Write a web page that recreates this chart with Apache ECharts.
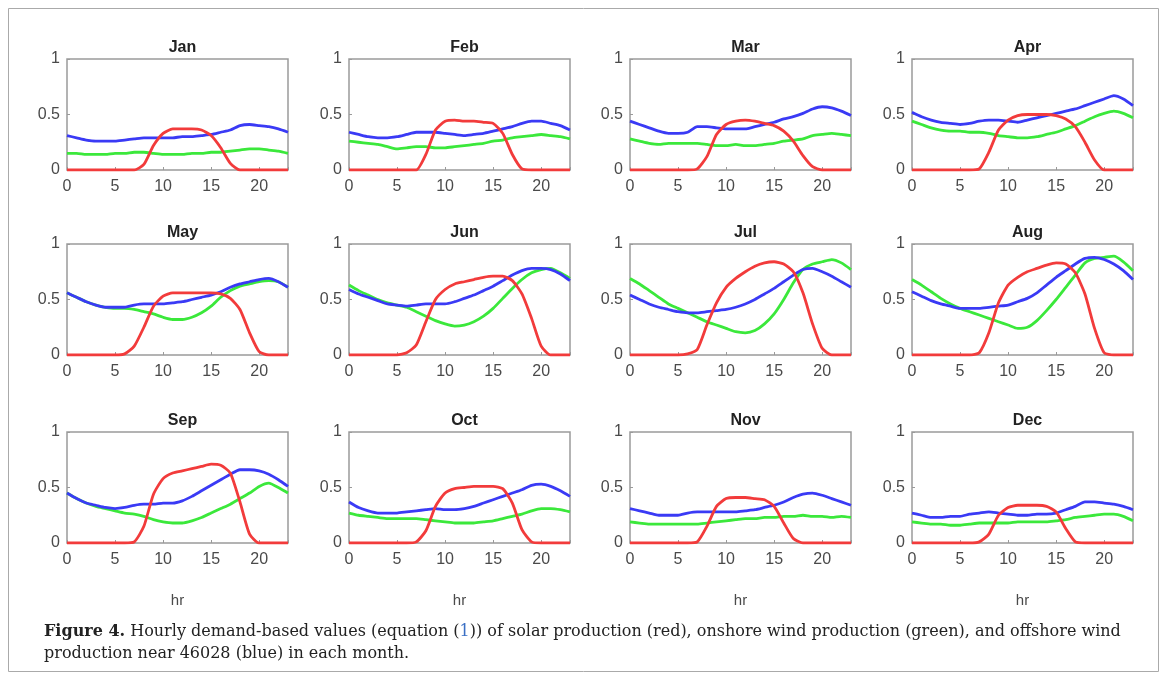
<!DOCTYPE html>
<html>
<head>
<meta charset="utf-8">
<script src="https://cdn.jsdelivr.net/npm/echarts@6/dist/echarts.min.js"></script>
<style>html,body{margin:0;padding:0;background:#fff;}#c{width:1167px;height:690px;}</style>
</head>
<body>
<div id="c"></div>
<script>
const months = ['Jan','Feb','Mar','Apr','May','Jun','Jul','Aug','Sep','Oct','Nov','Dec'];
const hours = [0,1,2,3,4,5,6,7,8,9,10,11,12,13,14,15,16,17,18,19,20,21,22,23];
const xTicks = [0,5,10,15,20];
const yTicks = [0,0.5,1];

// offshore wind near 46028 (blue)
const offshore = [
 [0.31,0.29,0.27,0.26,0.26,0.26,0.27,0.28,0.29,0.29,0.29,0.29,0.30,0.30,0.31,0.32,0.34,0.36,0.40,0.41,0.40,0.39,0.37,0.34],
 [0.34,0.32,0.30,0.29,0.29,0.30,0.32,0.34,0.34,0.34,0.33,0.32,0.31,0.32,0.33,0.35,0.37,0.39,0.42,0.44,0.44,0.42,0.40,0.36],
 [0.44,0.41,0.38,0.35,0.33,0.33,0.34,0.39,0.39,0.38,0.37,0.37,0.37,0.39,0.41,0.43,0.46,0.48,0.51,0.55,0.57,0.56,0.53,0.49],
 [0.52,0.48,0.45,0.43,0.42,0.41,0.42,0.44,0.45,0.45,0.44,0.43,0.45,0.47,0.49,0.51,0.53,0.55,0.58,0.61,0.64,0.67,0.64,0.58],
 [0.56,0.52,0.48,0.45,0.43,0.43,0.43,0.45,0.46,0.46,0.46,0.47,0.48,0.50,0.52,0.54,0.57,0.61,0.64,0.66,0.68,0.69,0.66,0.61],
 [0.59,0.55,0.52,0.49,0.46,0.45,0.44,0.45,0.46,0.46,0.46,0.48,0.51,0.54,0.58,0.62,0.67,0.72,0.76,0.78,0.78,0.77,0.73,0.67],
 [0.54,0.50,0.46,0.43,0.41,0.39,0.38,0.38,0.39,0.40,0.41,0.43,0.46,0.50,0.55,0.60,0.66,0.72,0.77,0.78,0.75,0.71,0.66,0.61],
 [0.57,0.53,0.49,0.46,0.44,0.42,0.42,0.42,0.43,0.44,0.45,0.48,0.51,0.56,0.63,0.70,0.76,0.82,0.87,0.88,0.86,0.82,0.76,0.68],
 [0.45,0.40,0.36,0.34,0.32,0.31,0.32,0.34,0.35,0.35,0.36,0.36,0.38,0.42,0.47,0.52,0.57,0.62,0.66,0.66,0.65,0.62,0.57,0.51],
 [0.37,0.32,0.29,0.27,0.27,0.27,0.28,0.29,0.30,0.31,0.30,0.30,0.31,0.33,0.36,0.39,0.42,0.45,0.48,0.52,0.53,0.51,0.47,0.42],
 [0.31,0.29,0.27,0.25,0.25,0.25,0.27,0.28,0.28,0.28,0.28,0.28,0.29,0.30,0.32,0.34,0.37,0.41,0.44,0.45,0.43,0.40,0.37,0.34],
 [0.27,0.25,0.23,0.23,0.24,0.24,0.26,0.27,0.28,0.27,0.26,0.25,0.25,0.26,0.26,0.27,0.30,0.33,0.37,0.37,0.36,0.35,0.33,0.30]
];
// onshore wind (green)
const onshore = [
 [0.15,0.15,0.14,0.14,0.14,0.15,0.15,0.16,0.16,0.15,0.14,0.14,0.14,0.15,0.15,0.16,0.16,0.17,0.18,0.19,0.19,0.18,0.17,0.15],
 [0.26,0.25,0.24,0.23,0.21,0.19,0.20,0.21,0.21,0.20,0.20,0.21,0.22,0.23,0.24,0.26,0.27,0.29,0.30,0.31,0.32,0.31,0.30,0.28],
 [0.28,0.26,0.24,0.23,0.24,0.24,0.24,0.24,0.23,0.22,0.22,0.23,0.22,0.22,0.23,0.24,0.26,0.27,0.28,0.31,0.32,0.33,0.32,0.31],
 [0.44,0.41,0.38,0.36,0.35,0.35,0.34,0.34,0.33,0.31,0.30,0.29,0.29,0.30,0.32,0.34,0.37,0.40,0.44,0.48,0.51,0.53,0.51,0.47],
 [0.56,0.52,0.48,0.45,0.43,0.42,0.42,0.41,0.39,0.37,0.34,0.32,0.32,0.34,0.38,0.44,0.52,0.58,0.62,0.64,0.66,0.67,0.66,0.61],
 [0.63,0.58,0.54,0.50,0.47,0.45,0.43,0.39,0.35,0.31,0.28,0.26,0.27,0.30,0.35,0.42,0.51,0.60,0.68,0.74,0.77,0.78,0.74,0.69],
 [0.69,0.64,0.58,0.52,0.46,0.42,0.38,0.34,0.30,0.27,0.24,0.21,0.20,0.22,0.28,0.37,0.50,0.65,0.77,0.82,0.84,0.86,0.83,0.77],
 [0.68,0.63,0.57,0.51,0.46,0.42,0.39,0.36,0.33,0.30,0.27,0.24,0.25,0.31,0.40,0.50,0.61,0.72,0.83,0.87,0.88,0.89,0.84,0.76],
 [0.45,0.40,0.36,0.33,0.31,0.29,0.27,0.26,0.24,0.21,0.19,0.18,0.18,0.20,0.23,0.27,0.31,0.35,0.40,0.45,0.51,0.54,0.50,0.45],
 [0.27,0.25,0.24,0.23,0.22,0.22,0.22,0.22,0.21,0.20,0.19,0.18,0.18,0.18,0.19,0.20,0.22,0.24,0.26,0.29,0.31,0.31,0.30,0.28],
 [0.19,0.18,0.17,0.17,0.17,0.17,0.17,0.17,0.18,0.19,0.20,0.21,0.22,0.22,0.23,0.23,0.24,0.24,0.25,0.24,0.24,0.23,0.24,0.23],
 [0.19,0.18,0.17,0.17,0.16,0.16,0.17,0.18,0.18,0.18,0.18,0.19,0.19,0.19,0.19,0.20,0.21,0.23,0.24,0.25,0.26,0.26,0.24,0.20]
];
// solar (red)
const solar = [
 [0,0,0,0,0,0,0,0,0.05,0.22,0.33,0.37,0.37,0.37,0.36,0.31,0.20,0.06,0,0,0,0,0,0],
 [0,0,0,0,0,0,0,0,0.14,0.36,0.44,0.45,0.44,0.44,0.43,0.42,0.33,0.14,0.01,0,0,0,0,0],
 [0,0,0,0,0,0,0,0.01,0.12,0.32,0.41,0.44,0.45,0.44,0.42,0.40,0.35,0.26,0.13,0.03,0,0,0,0],
 [0,0,0,0,0,0,0,0.01,0.16,0.36,0.45,0.49,0.50,0.50,0.50,0.49,0.46,0.39,0.25,0.09,0,0,0,0],
 [0,0,0,0,0,0,0.01,0.08,0.25,0.44,0.53,0.56,0.56,0.56,0.56,0.56,0.55,0.51,0.41,0.20,0.03,0,0,0],
 [0,0,0,0,0,0,0.02,0.09,0.30,0.50,0.59,0.64,0.66,0.68,0.70,0.71,0.71,0.67,0.55,0.33,0.08,0,0,0],
 [0,0,0,0,0,0,0.01,0.05,0.27,0.47,0.61,0.69,0.75,0.80,0.83,0.84,0.82,0.75,0.56,0.28,0.06,0,0,0],
 [0,0,0,0,0,0,0,0.02,0.20,0.47,0.63,0.70,0.75,0.78,0.81,0.83,0.82,0.74,0.55,0.24,0.02,0,0,0],
 [0,0,0,0,0,0,0,0.01,0.15,0.44,0.58,0.63,0.65,0.67,0.69,0.71,0.70,0.63,0.37,0.08,0,0,0,0],
 [0,0,0,0,0,0,0,0.01,0.11,0.33,0.45,0.49,0.50,0.51,0.51,0.51,0.49,0.36,0.12,0.01,0,0,0,0],
 [0,0,0,0,0,0,0,0.01,0.15,0.33,0.40,0.41,0.41,0.40,0.39,0.33,0.18,0.04,0,0,0,0,0,0],
 [0,0,0,0,0,0,0,0.01,0.08,0.25,0.32,0.34,0.34,0.34,0.33,0.28,0.13,0.01,0,0,0,0,0,0]
];

const colLeft = [67, 349, 630, 912];
const rowTop = [59, 244, 432];
const W = 221, H = 111;
const grids = [], xAxes = [], yAxes = [], titles = [], series = [];
const axisGray = '#9a9a9a';
const labelColor = '#4a4a4a';

months.forEach((m, i) => {
  const r = Math.floor(i / 4), c = i % 4;
  grids.push({left: colLeft[c], top: rowTop[r], width: W, height: H,
    show: true, borderColor: axisGray, borderWidth: 1.5, backgroundColor: '#fff'});
  titles.push({text: m, left: colLeft[c] + W / 2, top: rowTop[r] - 24, textAlign: 'center',
    textStyle: {fontFamily: 'Liberation Sans', fontWeight: 'bold', fontSize: 16, color: '#222'}});
  xAxes.push({type: 'value', gridIndex: i, min: 0, max: 23, interval: 5,
    name: r === 2 ? 'hr' : '', nameLocation: 'middle', nameGap: 50,
    nameTextStyle: {fontFamily: 'Liberation Sans', fontSize: 15, color: labelColor},
    axisLine: {show: false}, splitLine: {show: false},
    axisTick: {show: true, inside: true, length: 3, lineStyle: {color: axisGray}},
    axisLabel: {margin: 9, fontFamily: 'Liberation Sans', fontSize: 16, color: labelColor,
      formatter: v => xTicks.includes(v) ? String(v) : ''}});
  yAxes.push({type: 'value', gridIndex: i, min: 0, max: 1, interval: 0.5,
    axisLine: {show: false}, splitLine: {show: false},
    axisTick: {show: true, inside: true, length: 3, lineStyle: {color: axisGray}},
    axisLabel: {margin: 7, fontFamily: 'Liberation Sans', fontSize: 16, color: labelColor,
      formatter: v => yTicks.includes(v) ? String(v) : ''}});
  const mk = (arr, color) => ({type: 'line', xAxisIndex: i, yAxisIndex: i, symbol: 'none',
    smooth: 0.2, data: hours.map((h, k) => [h, arr[k]]),
    lineStyle: {color: color, width: 2.8}, animation: false, z: 3});
  series.push(mk(onshore[i], '#3be83b'));
  series.push(mk(offshore[i], '#3a3af5'));
  series.push(mk(solar[i], '#f23b3b'));
});

const chart = echarts.init(document.getElementById('c'), null, {renderer: 'canvas'});
chart.setOption({
  backgroundColor: '#fff',
  animation: false,
  title: titles,
  grid: grids,
  xAxis: xAxes,
  yAxis: yAxes,
  series: series,
  graphic: [
    {type: 'rect', shape: {x: 8.5, y: 8.5, width: 1150, height: 663}, z: -10,
      style: {fill: 'none', stroke: '#aaa', lineWidth: 1}},
    {type: 'text', left: 44, top: 621, z: 10,
      style: {
        text: '{b|Figure 4.} Hourly demand-based values (equation ({l|1})) of solar production (red), onshore wind production (green), and offshore wind\nproduction near 46028 (blue) in each month.',
        fontFamily: 'DejaVu Serif', fontSize: 16, lineHeight: 22, fill: '#222',
        rich: {
          b: {fontFamily: 'DejaVu Serif', fontWeight: 'bold', fontSize: 16, fill: '#222'},
          l: {fontFamily: 'DejaVu Serif', fontSize: 16, fill: '#3a6fc4'}
        }
      }}
  ]
});
</script>
</body>
</html>
